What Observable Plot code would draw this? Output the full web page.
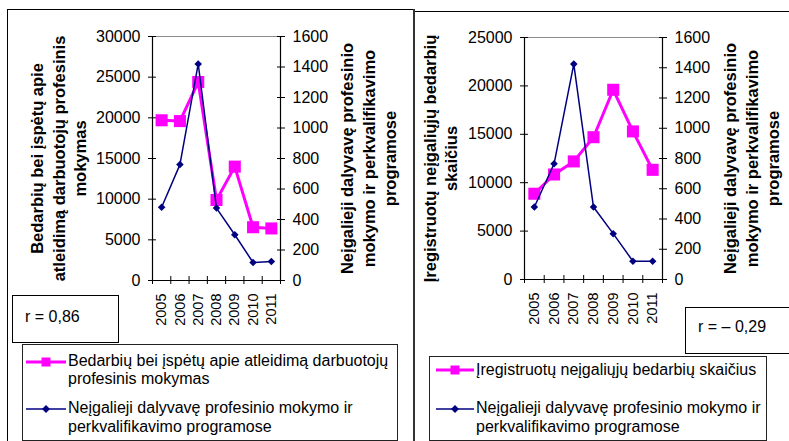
<!DOCTYPE html>
<html><head><meta charset="utf-8">
<script src="https://cdn.jsdelivr.net/npm/d3@7"></script>
<script src="https://cdn.jsdelivr.net/npm/@observablehq/plot@0.6"></script>
<style>
html,body{margin:0;padding:0;background:#fff;}
#root{position:relative;width:789px;height:441px;overflow:hidden;font-family:"Liberation Sans",Arial,sans-serif;color:#000;}
.abs{position:absolute;}
.box{position:absolute;border:1px solid #000;box-sizing:border-box;background:#fff;}
svg text{font-family:"Liberation Sans",Arial,sans-serif;}
</style></head><body><div id="root"></div>
<script>
// ---- data ----
const years = [2005, 2006, 2007, 2008, 2009, 2010, 2011];
const trainingOfUnemployed = [19700, 19600, 24400, 9900, 14000, 6550, 6400];
const registeredDisabledUnemployed = [8860, 10850, 12200, 14700, 19600, 15300, 11330];
const disabledInPrograms = [480, 760, 1420, 475, 300, 118, 124];
const disabledInProgramsB = [479, 765, 1424, 479, 303, 121, 121];
const leftTicksA = [0, 5000, 10000, 15000, 20000, 25000, 30000];
const leftTicksB = [0, 5000, 10000, 15000, 20000, 25000];
const rightTicks = [0, 200, 400, 600, 800, 1000, 1200, 1400, 1600];
const yearBounds = [2004.5, 2005.5, 2006.5, 2007.5, 2008.5, 2009.5, 2010.5, 2011.5];
const titleLeftA = "Bedarbių bei įspėtų apie\natleidimą darbuotojų profesinis\nmokymas";
const titleLeftB = "Įregistruotų neįgaliųjų bedarbių\nskaičius";
const titleRight = "Neįgalieji dalyvavę profesinio\nmokymo ir perkvalifikavimo\nprogramose";
const legendPinkA = ["Bedarbių bei įspėtų apie atleidimą darbuotojų", "profesinis mokymas"];
const legendPinkB = ["Įregistruotų neįgaliųjų bedarbių skaičius"];
const legendBlue = ["Neįgalieji dalyvavę profesinio mokymo ir", "perkvalifikavimo programose"];
const rA = "r = 0,86";
const rB = "r = \u2013 0,29";

const PINK = "#ff00ff", NAVY = "#000080";
const FONT = "'Liberation Sans', Arial, sans-serif";
const root = document.getElementById("root");

function addDiv(css) {
  const d = document.createElement("div");
  d.className = "abs";
  d.style.cssText = css;
  root.appendChild(d);
  return d;
}

// panel borders
addDiv("left:7px;top:9px;width:407px;height:440px;border-left:1px solid #000;border-top:1px solid #000;");
addDiv("left:414px;top:11px;width:380px;height:440px;border-top:1px solid #000;");
addDiv("left:413px;top:9px;width:2px;height:440px;background:#333;");

const xDomain = [yearBounds[0], yearBounds[yearBounds.length - 1]];

function panel({left, width, height, mt, mb, ml, mr, pink, blue, leftTicks, leftTitle, leftTitleDx, rightTitleDx}) {
  const pinkData = years.map((year, i) => ({year, value: pink[i]}));
  const blueData = years.map((year, i) => ({year, value: blue[i]}));
  const yMax = leftTicks[leftTicks.length - 1];
  const rMax = rightTicks[rightTicks.length - 1];
  const common = {
    width, height, marginTop: mt, marginBottom: mb, marginLeft: ml, marginRight: mr,
    x: {type: "linear", domain: xDomain, axis: null},
    style: {background: "transparent", fontFamily: FONT, fontSize: "16px", color: "#000", overflow: "visible"}
  };
  const a = Plot.plot({
    ...common,
    y: {domain: [0, yMax], axis: null},
    marks: [
      Plot.ruleY([yMax], {stroke: "#8c8c8c", strokeWidth: 1.2}),
      Plot.ruleY([0], {stroke: "#000", strokeWidth: 1.2}),
      Plot.ruleX([xDomain[0]], {stroke: "#000", strokeWidth: 1.2}),
      Plot.axisY({ticks: leftTicks, tickSize: 8, dx: 4, tickPadding: 8, tickFormat: d => String(d), label: null, fontSize: 16}),
      Plot.axisX({ticks: yearBounds, tickSize: 8, dy: -4, tickFormat: () => "", label: null}),
      Plot.axisX({ticks: years, tickSize: 0, tickPadding: 13, tickRotate: -90, tickFormat: d => String(d), label: null, fontSize: 14.5}),
      Plot.text([leftTitle], {text: d => d, frameAnchor: "left", dx: leftTitleDx, rotate: -90, fontWeight: "bold", fontSize: 16.5, lineHeight: 1.33, textAnchor: "middle", lineAnchor: "middle", fill: "#000"}),
      Plot.line(pinkData, {x: "year", y: "value", stroke: PINK, strokeWidth: 3}),
      Plot.dot(pinkData, {x: "year", y: "value", symbol: "square", r: 6.8, fill: PINK})
    ]
  });
  const b = Plot.plot({
    ...common,
    y: {domain: [0, rMax], axis: null},
    marks: [
      Plot.ruleX([xDomain[1]], {stroke: "#000", strokeWidth: 1.2}),
      Plot.axisY({anchor: "right", ticks: rightTicks, tickSize: 8, dx: -4, tickPadding: 8, tickFormat: d => String(d), label: null, fontSize: 16}),
      Plot.text([titleRight], {text: d => d, frameAnchor: "right", dx: rightTitleDx, rotate: -90, fontWeight: "bold", fontSize: 16.5, lineHeight: 1.33, textAnchor: "middle", lineAnchor: "middle", fill: "#000"}),
      Plot.line(blueData, {x: "year", y: "value", stroke: NAVY, strokeWidth: 1.5}),
      Plot.dot(blueData, {x: "year", y: "value", symbol: "diamond2", r: 3.4, fill: NAVY})
    ]
  });
  for (const s of [a, b]) {
    s.style.position = "absolute";
    s.style.left = left + "px";
    s.style.top = "0px";
    root.appendChild(s);
  }
}

panel({left: 0, width: 410, height: 330, mt: 36, mb: 50, ml: 152, mr: 130,
  pink: trainingOfUnemployed, blue: disabledInPrograms, leftTicks: leftTicksA,
  leftTitle: titleLeftA, leftTitleDx: -95, rightTitleDx: 87});
panel({left: 414, width: 375, height: 330, mt: 37, mb: 51, ml: 110, mr: 127,
  pink: registeredDisabledUnemployed, blue: disabledInProgramsB, leftTicks: leftTicksB,
  leftTitle: titleLeftB, leftTitleDx: -85, rightTitleDx: 88});

// r boxes
function rBox(left, top, w, h, text, tx, ty) {
  const d = addDiv(`left:${left}px;top:${top}px;width:${w}px;height:${h}px;border:1px solid #000;box-sizing:border-box;background:#fff;`);
  d.innerHTML = `<svg width="${w}" height="${h}" style="position:absolute;left:-1px;top:-1px"><text x="${tx}" y="${ty}" font-size="16" fill="#000">${text}</text></svg>`;
}
rBox(12, 295, 107, 48, rA, 13, 27);
rBox(685, 307, 120, 47, rB, 13, 25);

// legends
const NS = "http://www.w3.org/2000/svg";
function legend(left, top, w, h, entries) {
  const d = addDiv(`left:${left}px;top:${top}px;width:${w}px;height:${h}px;border:1px solid #222;box-sizing:border-box;background:#fff;`);
  const svg = document.createElementNS(NS, "svg");
  svg.setAttribute("width", w); svg.setAttribute("height", h);
  svg.style.cssText = "position:absolute;left:-1px;top:-1px";
  for (const e of entries) {
    const ln = document.createElementNS(NS, "line");
    ln.setAttribute("x1", e.x1); ln.setAttribute("x2", e.x2);
    ln.setAttribute("y1", e.y); ln.setAttribute("y2", e.y);
    ln.setAttribute("stroke", e.color); ln.setAttribute("stroke-width", e.sw);
    svg.appendChild(ln);
    const mx = (e.x1 + e.x2) / 2;
    const m = document.createElementNS(NS, "path");
    const s = e.size / 2;
    m.setAttribute("d", e.shape === "square"
      ? `M${mx - s},${e.y - s}h${2 * s}v${2 * s}h${-2 * s}Z`
      : `M${mx},${e.y - s}L${mx + s},${e.y}L${mx},${e.y + s}L${mx - s},${e.y}Z`);
    m.setAttribute("fill", e.color);
    svg.appendChild(m);
    e.lines.forEach((t, i) => {
      const tx = document.createElementNS(NS, "text");
      tx.setAttribute("x", e.tx); tx.setAttribute("y", e.ty[i]);
      tx.setAttribute("font-size", 16); tx.setAttribute("fill", "#000");
      tx.textContent = t;
      svg.appendChild(tx);
    });
  }
  d.appendChild(svg);
}
legend(22, 344, 376, 97, [
  {x1: 4, x2: 44, y: 18, color: PINK, sw: 3, shape: "square", size: 9, lines: legendPinkA, tx: 46, ty: [22, 40]},
  {x1: 4, x2: 44, y: 65, color: NAVY, sw: 1.5, shape: "diamond", size: 8, lines: legendBlue, tx: 46, ty: [69, 88]}
]);
legend(429, 356, 338, 85, [
  {x1: 7, x2: 45, y: 14, color: PINK, sw: 3, shape: "square", size: 9, lines: legendPinkB, tx: 47, ty: [19]},
  {x1: 7, x2: 45, y: 53, color: NAVY, sw: 1.5, shape: "diamond", size: 8, lines: legendBlue, tx: 47, ty: [57, 76]}
]);
</script>
</body></html>
